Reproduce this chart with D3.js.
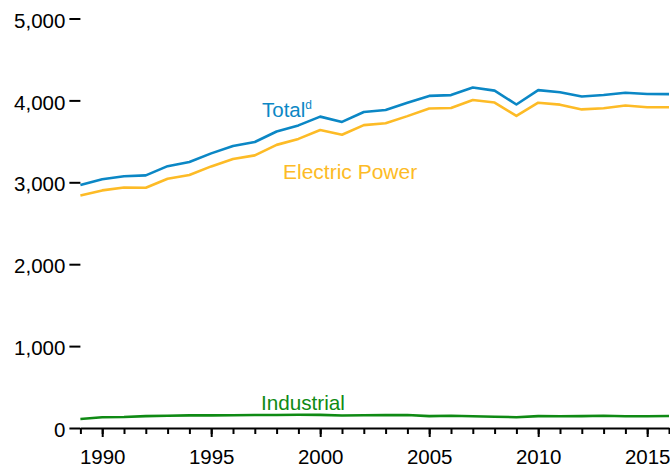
<!DOCTYPE html>
<html>
<head>
<meta charset="utf-8">
<script src="https://cdn.jsdelivr.net/npm/d3@7"></script>
<style>
  body { margin: 0; background: #fff; }
  svg { display: block; font-family: "Liberation Sans", Arial, sans-serif; }
</style>
</head>
<body>
<div id="chart"></div>
<script>
// ---- data (billion kWh) ----
const years = d3.range(1989, 2017);

const total = [2967, 3038, 3074, 3084, 3197, 3248, 3353, 3444, 3492, 3620,
  3695, 3802, 3737, 3858, 3883, 3971, 4055, 4065, 4157, 4119,
  3950, 4125, 4100, 4048, 4066, 4094, 4078, 4077];

const electricPower = [2840, 2901, 2936, 2934, 3044, 3089, 3194, 3284, 3329, 3457,
  3530, 3638, 3580, 3698, 3721, 3808, 3902, 3908, 4005, 3974,
  3810, 3972, 3948, 3890, 3904, 3937, 3917, 3917];

const industrial = [110, 131, 134, 145, 149, 154, 154, 156, 159, 159,
  161, 160, 152, 156, 157, 159, 145, 149, 143, 138,
  132, 145, 144, 145, 150, 143, 143, 147];

const yTicks = [0, 1000, 2000, 3000, 4000, 5000];
const xLabelYears = [1990, 1995, 2000, 2005, 2010, 2015];

// ---- layout ----
const W = 670, H = 468;

const svg = d3.select('#chart')
  .append('svg')
  .attr('width', W)
  .attr('height', H);

const x = d3.scaleLinear()
  .domain([1989, 2016])
  .range([80.4, 669]);

const y = d3.scaleLinear()
  .domain([0, 5000])
  .range([428, 18.5]);

// y axis: ticks only, no domain line
const yAxis = d3.axisLeft(y)
  .tickValues(yTicks)
  .tickFormat(d3.format(','))
  .tickSize(11)
  .tickPadding(4);

const gy = svg.append('g')
  .attr('transform', `translate(${x(1989)},0)`)
  .call(yAxis);
gy.select('.domain').remove();
gy.selectAll('line').attr('stroke', '#000').attr('stroke-width', 2);
gy.selectAll('text')
  .attr('fill', '#000')
  .attr('dy', '0.42em')
  .style('font-size', '20.5px');

// x axis: minor ticks every year, longer ticks at labelled years
const gx = svg.append('g')
  .attr('transform', `translate(0,${y(0)})`);

gx.append('g')
  .call(d3.axisBottom(x).tickValues(years).tickSize(6).tickFormat(''))
  .call(g => g.select('.domain').remove())
  .selectAll('line').attr('stroke', '#000').attr('stroke-width', 2);

const gxMajor = gx.append('g')
  .call(d3.axisBottom(x)
    .tickValues(xLabelYears)
    .tickFormat(d3.format('d'))
    .tickSize(9)
    .tickPadding(12)
    .tickSizeOuter(0));
gxMajor.select('.domain').attr('stroke', '#000').attr('stroke-width', 2);
gxMajor.selectAll('line').attr('stroke', '#000').attr('stroke-width', 2);
gxMajor.selectAll('text')
  .attr('fill', '#000')
  .style('font-size', '20.5px');

// ---- lines ----
const series = [
  { name: 'Total', values: total, color: '#0b87c5' },
  { name: 'Electric Power', values: electricPower, color: '#fdbb26' },
  { name: 'Industrial', values: industrial, color: '#0f8a14' }
];

const line = d3.line()
  .x((d, i) => x(years[i]))
  .y(d => y(d));

series.forEach(s => {
  svg.append('path')
    .datum(s.values)
    .attr('fill', 'none')
    .attr('stroke', s.color)
    .attr('stroke-width', 2.6)
    .attr('stroke-linejoin', 'round')
    .attr('d', line);
});

// ---- labels ----
const totalLabel = svg.append('text')
  .attr('x', 262)
  .attr('y', 116.5)
  .attr('fill', series[0].color)
  .style('font-size', '20.5px')
  .text('Total');
totalLabel.append('tspan')
  .attr('dy', -8)
  .style('font-size', '12px')
  .text('d');

svg.append('text')
  .attr('x', 283)
  .attr('y', 179)
  .attr('fill', series[1].color)
  .style('font-size', '21px')
  .text('Electric Power');

svg.append('text')
  .attr('x', 261)
  .attr('y', 409.5)
  .attr('fill', series[2].color)
  .style('font-size', '20.7px')
  .text('Industrial');
</script>
</body>
</html>
